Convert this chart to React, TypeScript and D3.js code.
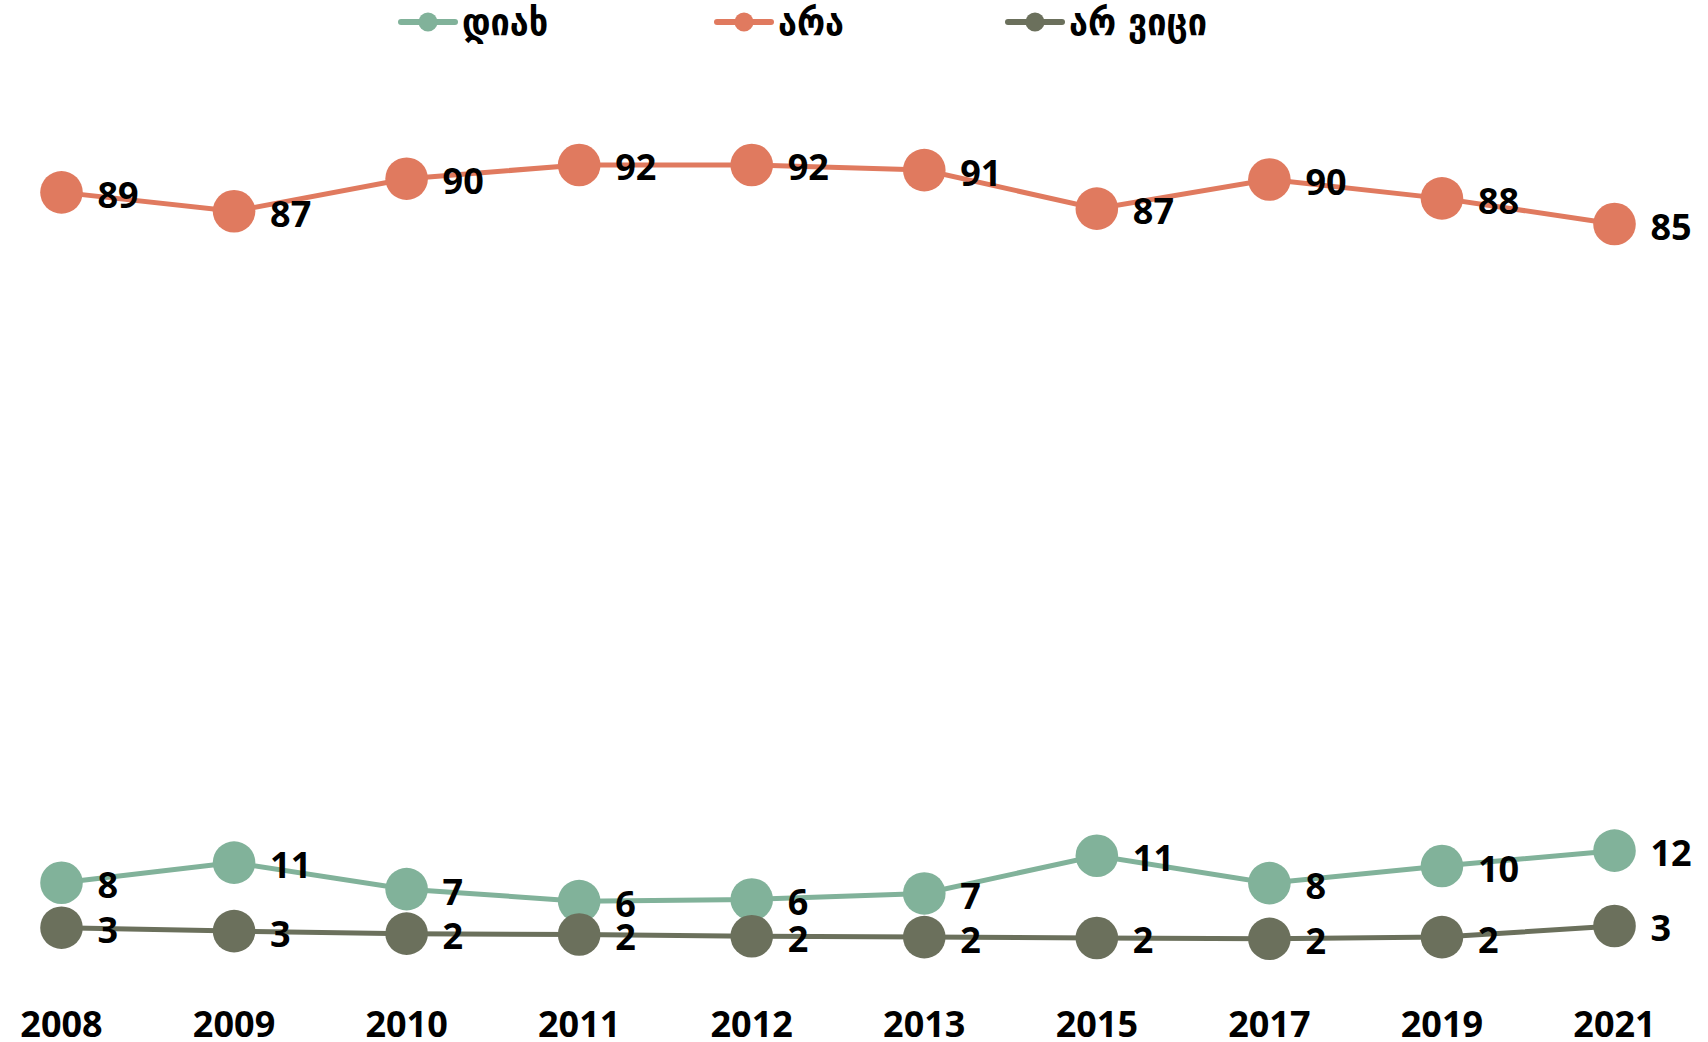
import React from 'react';
import * as d3 from 'd3';

const years = ['2008', '2009', '2010', '2011', '2012', '2013', '2015', '2017', '2019', '2021'];
const yesValues = [8.15, 10.5, 7.4, 6.0, 6.2, 6.9, 11.3, 8.1, 10.1, 11.9];
const noValues = [88.8, 86.6, 90.4, 92.0, 92.0, 91.4, 86.9, 90.3, 88.1, 85.1];
const dkValues = [2.9, 2.5, 2.2, 2.1, 1.9, 1.8, 1.7, 1.6, 1.8, 3.1];
const seriesNames = ['დიახ', 'არა', 'არ ვიცი'];
const seriesColors = ['#81B29A', '#E07A5F', '#6B705C'];

const W = 1708;
const H = 1042;

export default function App() {
  const x = d3.scalePoint<string>().domain(years).range([61.5, 1614.5]);
  const y = d3.scaleLinear().domain([0, 100]).range([952.5, 96.5]);
  const series = [
    { name: seriesNames[0], color: seriesColors[0], values: yesValues },
    { name: seriesNames[1], color: seriesColors[1], values: noValues },
    { name: seriesNames[2], color: seriesColors[2], values: dkValues },
  ];
  const line = d3
    .line<number>()
    .x((_, i) => x(years[i]) as number)
    .y((v) => y(v));
  const legendX = [428, 744, 1035];
  const numFont = "'Noto Sans', 'Open Sans', sans-serif";
  const geoFont = "'DejaVu Sans Condensed', 'DejaVu Sans', sans-serif";
  return (
    <svg
      width={W}
      height={H}
      style={{ position: 'absolute', left: 0, top: 0, background: '#fff' }}
    >
      {/* legend */}
      {series.map((s, i) => (
        <g key={s.name} transform={`translate(${legendX[i]},22)`}>
          <line x1={-27} x2={27} y1={0} y2={0} stroke={s.color} strokeWidth={6} strokeLinecap="round" />
          <circle r={9.5} fill={s.color} />
          <text
            x={34}
            y={0}
            dominantBaseline="central"
            fontFamily={geoFont}
            fontWeight={700}
            fontSize={38}
            fill="#000"
          >
            {s.name}
          </text>
        </g>
      ))}
      {/* lines and markers */}
      {series.map((s) => (
        <g key={s.name}>
          <path d={line(s.values) || ''} fill="none" stroke={s.color} strokeWidth={5} />
          {s.values.map((v, i) => (
            <circle key={i} cx={x(years[i])} cy={y(v)} r={21.3} fill={s.color} />
          ))}
        </g>
      ))}
      {/* data labels */}
      {series.map((s) => (
        <g key={s.name + '-l'}>
          {s.values.map((v, i) => (
            <text
              key={i}
              x={(x(years[i]) as number) + 36}
              y={y(v) + 2}
              dominantBaseline="central"
              fontFamily={numFont}
              fontWeight={700}
              fontSize={36}
              fill="#000"
            >
              {Math.round(v)}
            </text>
          ))}
        </g>
      ))}
      {/* x axis labels */}
      {years.map((yr) => (
        <text
          key={yr}
          x={x(yr)}
          y={1023}
          textAnchor="middle"
          dominantBaseline="central"
          fontFamily={numFont}
          fontWeight={700}
          fontSize={36}
          fill="#000"
        >
          {yr}
        </text>
      ))}
    </svg>
  );
}
